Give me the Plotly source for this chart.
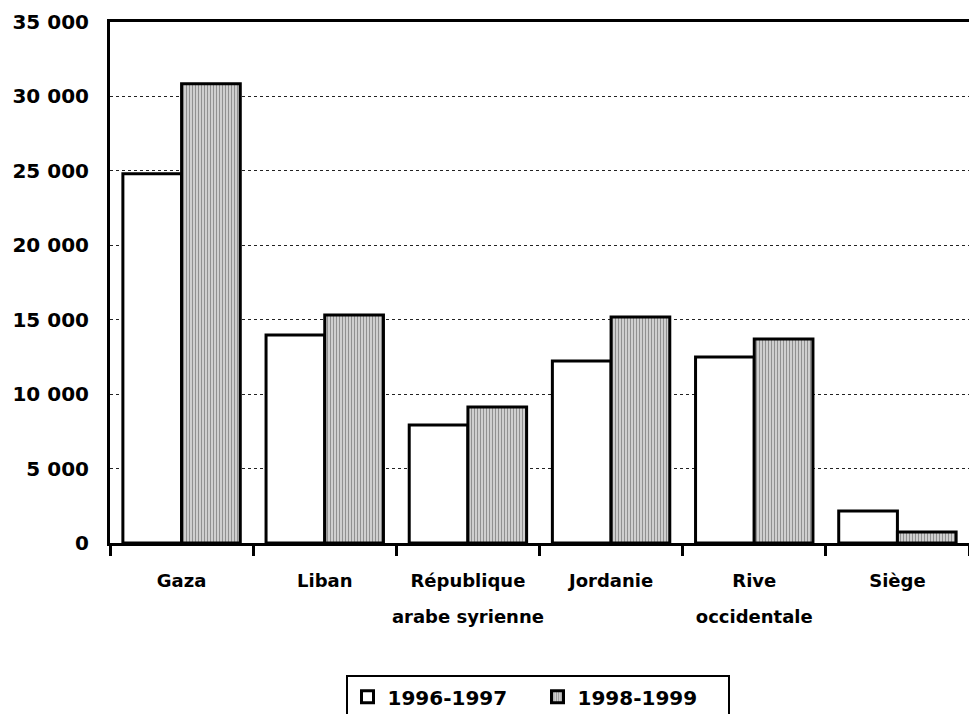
import plotly.graph_objects as go

# Régions et effectifs par exercice biennal
regions = ["Gaza", "Liban", "République\narabe syrienne", "Jordanie", "Rive\noccidentale", "Siège"]
series_labels = ["1996-1997", "1998-1999"]
values_1996_1997 = [24800, 13980, 7930, 12230, 12500, 2150]
values_1998_1999 = [30850, 15320, 9140, 15190, 13710, 740]
y_ticks = [0, 5000, 10000, 15000, 20000, 25000, 30000, 35000]
y_tick_text = ["0", "5 000", "10 000", "15 000", "20 000", "25 000", "30 000", "35 000"]

FONT = "DejaVu Sans"
LABEL_PX = 18


def tick_label(name):
    # larger base font gives wider line spacing; each line is drawn at LABEL_PX
    return "<br>".join(
        f"<span style='font-size:{LABEL_PX}px'>{line}</span>" for line in name.split("\n")
    )


fig = go.Figure()
fig.add_trace(go.Bar(
    name=series_labels[0], x=regions, y=values_1996_1997,
    marker=dict(color="white", line=dict(color="black", width=3)),
))
fig.add_trace(go.Bar(
    name=series_labels[1], x=regions, y=values_1998_1999,
    marker=dict(
        color="#b4b4b4",
        line=dict(color="black", width=3),
        pattern=dict(shape="|", fgcolor="#4a4a4a", bgcolor="#d6d6d6", size=3, solidity=0.4),
    ),
))

fig.update_layout(
    width=969, height=714,
    margin=dict(l=110, r=0, t=22, b=171, autoexpand=False),
    paper_bgcolor="white", plot_bgcolor="white",
    barmode="group", bargap=0.18, bargroupgap=0,
    font=dict(family=FONT, color="black"),
    showlegend=True,
    legend=dict(
        orientation="h", x=0.4977, xanchor="center", y=-0.254, yanchor="top",
        bordercolor="black", borderwidth=2, bgcolor="white",
        font=dict(family=FONT, size=20, color="black", weight="bold"),
        entrywidth=145, traceorder="normal",
    ),
    xaxis=dict(
        tickvals=regions, ticktext=[tick_label(r) for r in regions],
        tickangle=0, automargin=False,
        showline=True, linecolor="black", linewidth=3, mirror=True,
        ticks="outside", tickson="boundaries", ticklen=10, tickwidth=3, tickcolor="black",
        tickfont=dict(family=FONT, size=28, color="black", weight="bold"),
        ticklabelstandoff=7,
        showgrid=False,
    ),
    yaxis=dict(
        range=[0, 35000], tickvals=y_ticks, ticktext=y_tick_text,
        automargin=False,
        showline=True, linecolor="black", linewidth=3,
        showgrid=True, gridcolor="#222", gridwidth=1, griddash="dot",
        zeroline=False, ticks="",
        tickfont=dict(family=FONT, size=20, color="black", weight="bold"),
        ticklabelstandoff=14,
    ),
)

fig.write_html("out.html")
